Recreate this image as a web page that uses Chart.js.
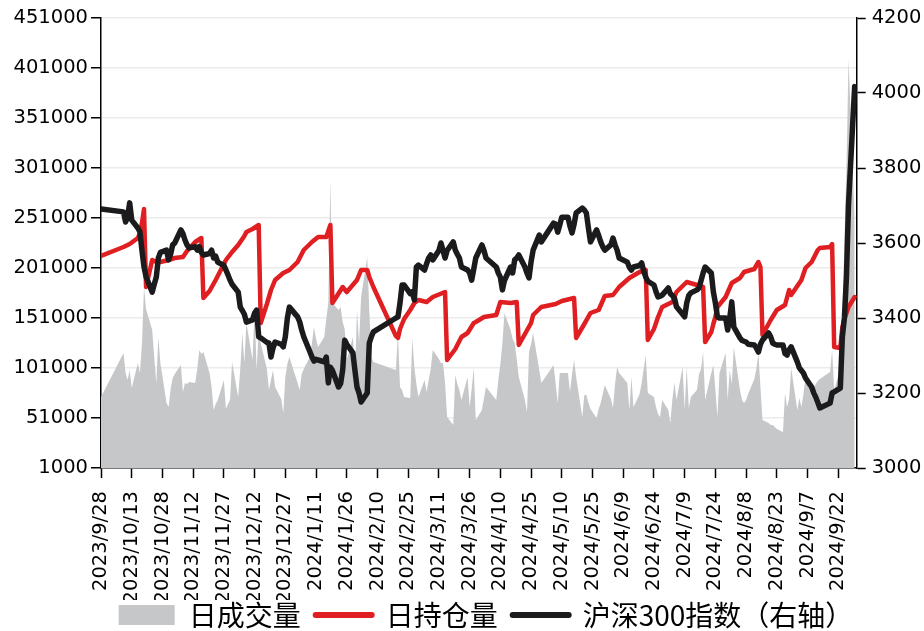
<!DOCTYPE html>
<html>
<head>
<meta charset="utf-8">
<script src="https://cdn.jsdelivr.net/npm/chart.js@4.4.1/dist/chart.umd.min.js"></script>
<style>
  html, body { margin: 0; padding: 0; background: #fff; }
  #chart { display: block; width: 924px; height: 631px; }
</style>
</head>
<body>
<canvas id="chart" width="924" height="631"></canvas>
<script>
// x axis tick labels (every 15 calendar days)
const xTickLabels = ['2023/9/28', '2023/10/13', '2023/10/28', '2023/11/12', '2023/11/27', '2023/12/12',
    '2023/12/27', '2024/1/11', '2024/1/26', '2024/2/10', '2024/2/25', '2024/3/11', '2024/3/26',
    '2024/4/10', '2024/4/25', '2024/5/10', '2024/5/25', '2024/6/9', '2024/6/24', '2024/7/9',
    '2024/7/24', '2024/8/8', '2024/8/23', '2024/9/7', '2024/9/22'];

// 日成交量 (left axis)
const volDates = ['2023/9/28', '2023/10/9', '2023/10/10', '2023/10/11', '2023/10/12', '2023/10/13', '2023/10/16', '2023/10/17', '2023/10/18', '2023/10/19', '2023/10/20',
    '2023/10/23', '2023/10/24', '2023/10/25', '2023/10/26', '2023/10/27', '2023/10/30', '2023/10/31', '2023/11/1', '2023/11/2', '2023/11/3',
    '2023/11/6', '2023/11/7', '2023/11/8', '2023/11/9', '2023/11/10', '2023/11/13', '2023/11/14', '2023/11/15', '2023/11/16', '2023/11/17',
    '2023/11/20', '2023/11/21', '2023/11/22', '2023/11/23', '2023/11/24', '2023/11/27', '2023/11/28', '2023/11/29', '2023/11/30', '2023/12/1',
    '2023/12/4', '2023/12/5', '2023/12/6', '2023/12/7', '2023/12/8', '2023/12/11', '2023/12/12', '2023/12/13', '2023/12/14', '2023/12/15',
    '2023/12/18', '2023/12/19', '2023/12/20', '2023/12/21', '2023/12/22', '2023/12/25', '2023/12/26', '2023/12/27', '2023/12/28', '2023/12/29',
    '2024/1/2', '2024/1/3', '2024/1/4', '2024/1/5', '2024/1/8', '2024/1/9', '2024/1/10', '2024/1/11', '2024/1/12',
    '2024/1/15', '2024/1/16', '2024/1/17', '2024/1/18', '2024/1/19', '2024/1/22', '2024/1/23', '2024/1/24', '2024/1/25', '2024/1/26',
    '2024/1/29', '2024/1/30', '2024/1/31', '2024/2/1', '2024/2/2', '2024/2/5', '2024/2/6', '2024/2/7', '2024/2/8',
    '2024/2/19', '2024/2/20', '2024/2/21', '2024/2/22', '2024/2/23', '2024/2/26', '2024/2/27', '2024/2/28', '2024/2/29', '2024/3/1',
    '2024/3/4', '2024/3/5', '2024/3/6', '2024/3/7', '2024/3/8', '2024/3/11', '2024/3/12', '2024/3/13', '2024/3/14', '2024/3/15',
    '2024/3/18', '2024/3/19', '2024/3/20', '2024/3/21', '2024/3/22', '2024/3/25', '2024/3/26', '2024/3/27', '2024/3/28', '2024/3/29',
    '2024/4/1', '2024/4/2', '2024/4/3', '2024/4/8', '2024/4/9', '2024/4/10', '2024/4/11', '2024/4/12',
    '2024/4/15', '2024/4/16', '2024/4/17', '2024/4/18', '2024/4/19', '2024/4/22', '2024/4/23', '2024/4/24', '2024/4/25', '2024/4/26',
    '2024/4/29', '2024/4/30', '2024/5/6', '2024/5/7', '2024/5/8', '2024/5/9', '2024/5/10',
    '2024/5/13', '2024/5/14', '2024/5/15', '2024/5/16', '2024/5/17', '2024/5/20', '2024/5/21', '2024/5/22', '2024/5/23', '2024/5/24',
    '2024/5/27', '2024/5/28', '2024/5/29', '2024/5/30', '2024/5/31', '2024/6/3', '2024/6/4', '2024/6/5', '2024/6/6', '2024/6/7',
    '2024/6/11', '2024/6/12', '2024/6/13', '2024/6/14', '2024/6/17', '2024/6/18', '2024/6/19', '2024/6/20', '2024/6/21',
    '2024/6/24', '2024/6/25', '2024/6/26', '2024/6/27', '2024/6/28', '2024/7/1', '2024/7/2', '2024/7/3', '2024/7/4', '2024/7/5',
    '2024/7/8', '2024/7/9', '2024/7/10', '2024/7/11', '2024/7/12', '2024/7/15', '2024/7/16', '2024/7/17', '2024/7/18', '2024/7/19',
    '2024/7/22', '2024/7/23', '2024/7/24', '2024/7/25', '2024/7/26', '2024/7/29', '2024/7/30', '2024/7/31', '2024/8/1', '2024/8/2',
    '2024/8/5', '2024/8/6', '2024/8/7', '2024/8/8', '2024/8/9', '2024/8/12', '2024/8/13', '2024/8/14', '2024/8/15', '2024/8/16',
    '2024/8/19', '2024/8/20', '2024/8/21', '2024/8/22', '2024/8/23', '2024/8/26', '2024/8/27', '2024/8/28', '2024/8/29', '2024/8/30',
    '2024/9/2', '2024/9/3', '2024/9/4', '2024/9/5', '2024/9/6', '2024/9/9', '2024/9/10', '2024/9/11', '2024/9/12', '2024/9/13',
    '2024/9/18', '2024/9/19', '2024/9/20', '2024/9/23', '2024/9/24', '2024/9/25', '2024/9/26', '2024/9/27', '2024/9/30'];
const volValues = [72000, 116000, 96000, 89000, 99000, 81000, 106000, 96000, 125000, 182000, 160000,
    139000, 112000, 86000, 132000, 106000, 66000, 62000, 80000, 91000, 95000,
    104000, 77000, 86000, 85000, 87000, 86000, 100000, 119000, 115000, 117000,
    96000, 82000, 59000, 65000, 69000, 89000, 60000, 65000, 69000, 107000,
    72000, 100000, 136000, 106000, 146000, 109000, 160000, 99000, 139000, 126000,
    100000, 79000, 89000, 99000, 82000, 70000, 56000, 92000, 105000, 112000,
    86000, 79000, 95000, 100000, 112000, 126000, 142000, 130000, 122000,
    132000, 150000, 166000, 290000, 166000, 159000, 162000, 147000, 140000, 109000,
    132000, 92000, 159000, 126000, 172000, 212000, 159000, 112000, 107000,
    99000, 136000, 82000, 79000, 72000, 71000, 131000, 102000, 85000, 72000,
    89000, 77000, 89000, 100000, 119000, 110000, 106000, 106000, 86000, 52000,
    44000, 94000, 85000, 79000, 69000, 92000, 62000, 80000, 101000, 49000,
    59000, 71000, 82000, 69000, 89000, 105000, 126000, 156000,
    139000, 130000, 126000, 110000, 92000, 69000, 57000, 117000, 125000, 136000,
    99000, 86000, 104000, 85000, 66000, 96000, 96000,
    96000, 77000, 95000, 109000, 92000, 52000, 74000, 74000, 66000, 60000,
    51000, 60000, 66000, 75000, 84000, 70000, 61000, 85000, 102000, 96000,
    86000, 59000, 92000, 62000, 75000, 86000, 100000, 114000, 76000,
    72000, 62000, 55000, 52000, 69000, 59000, 46000, 70000, 86000, 69000,
    102000, 59000, 102000, 61000, 72000, 79000, 95000, 100000, 117000, 69000,
    96000, 104000, 79000, 52000, 96000, 116000, 69000, 99000, 85000, 122000,
    79000, 69000, 66000, 69000, 75000, 90000, 100000, 116000, 82000, 49000,
    46000, 44000, 44000, 42000, 40000, 37000, 76000, 62000, 70000, 101000,
    59000, 71000, 62000, 75000, 92000, 72000, 80000, 85000, 88000, 90000,
    97000, 119000, 79000, 100000, 152000, 230000, 300000, 410000, 250000];

// 日持仓量 (left axis)
const oiDates = ['2023/9/28', '2023/10/9', '2023/10/11', '2023/10/12', '2023/10/16', '2023/10/17', '2023/10/18', '2023/10/19', '2023/10/20',
    '2023/10/23', '2023/10/25', '2023/10/27', '2023/10/31', '2023/11/3', '2023/11/7', '2023/11/9', '2023/11/13', '2023/11/16', '2023/11/17',
    '2023/11/20', '2023/11/23', '2023/11/28', '2023/12/1', '2023/12/4', '2023/12/7', '2023/12/8', '2023/12/11', '2023/12/14', '2023/12/15',
    '2023/12/18', '2023/12/20', '2023/12/22', '2023/12/26', '2023/12/29', '2024/1/2', '2024/1/5', '2024/1/9', '2024/1/12', '2024/1/16',
    '2024/1/18', '2024/1/19', '2024/1/24', '2024/1/26', '2024/1/31', '2024/2/2', '2024/2/5', '2024/2/6', '2024/2/7', '2024/2/8',
    '2024/2/19', '2024/2/20', '2024/2/21', '2024/2/23', '2024/2/26', '2024/2/28', '2024/3/1', '2024/3/5', '2024/3/8', '2024/3/14', '2024/3/15',
    '2024/3/19', '2024/3/22', '2024/3/25', '2024/3/28', '2024/3/29', '2024/4/2', '2024/4/8', '2024/4/10', '2024/4/15', '2024/4/18', '2024/4/19',
    '2024/4/22', '2024/4/25', '2024/4/26', '2024/4/30', '2024/5/7', '2024/5/10', '2024/5/16', '2024/5/17',
    '2024/5/21', '2024/5/24', '2024/5/28', '2024/5/31', '2024/6/4', '2024/6/7', '2024/6/12', '2024/6/17', '2024/6/20', '2024/6/21',
    '2024/6/24', '2024/6/26', '2024/6/28', '2024/7/3', '2024/7/5', '2024/7/10', '2024/7/15', '2024/7/18', '2024/7/19',
    '2024/7/22', '2024/7/23', '2024/7/24', '2024/7/25', '2024/7/29', '2024/8/1', '2024/8/5', '2024/8/7', '2024/8/12', '2024/8/14', '2024/8/15', '2024/8/16',
    '2024/8/20', '2024/8/23', '2024/8/27', '2024/8/29', '2024/8/30', '2024/9/4', '2024/9/6', '2024/9/9', '2024/9/12', '2024/9/13',
    '2024/9/18', '2024/9/19', '2024/9/20', '2024/9/23', '2024/9/24', '2024/9/25', '2024/9/26', '2024/9/27', '2024/9/30'];
const oiValues = [213000, 222000, 224000, 225000, 231000, 236000, 246000, 260000, 182000,
    209000, 207000, 207000, 209000, 211000, 212000, 218000, 227000, 231000, 171000,
    178000, 189000, 209000, 217000, 224000, 233000, 237000, 240000, 244000, 146000,
    165000, 179000, 189000, 196000, 199000, 207000, 219000, 227000, 232000, 232000,
    244000, 166000, 182000, 177000, 189000, 199000, 199000, 192000, 187000, 182000,
    133000, 131000, 140000, 150000, 159000, 166000, 169000, 167000, 172000, 177000, 109000,
    120000, 132000, 136000, 146000, 147000, 152000, 154000, 167000, 166000, 167000, 124000,
    135000, 146000, 154000, 162000, 165000, 168000, 171000, 131000,
    145000, 156000, 159000, 173000, 174000, 182000, 191000, 197000, 199000, 129000,
    140000, 152000, 162000, 167000, 177000, 187000, 184000, 182000, 127000,
    137000, 145000, 152000, 162000, 172000, 186000, 191000, 197000, 200000, 207000, 202000, 134000,
    149000, 159000, 164000, 179000, 174000, 189000, 201000, 207000, 219000, 221000,
    222000, 225000, 122000, 121000, 142000, 150000, 156000, 162000, 172000];

// 沪深300指数 (right axis)
const idxDates = ['2023/9/28', '2023/10/9', '2023/10/10', '2023/10/11', '2023/10/12', '2023/10/13', '2023/10/16', '2023/10/17', '2023/10/18', '2023/10/19', '2023/10/20',
    '2023/10/23', '2023/10/24', '2023/10/25', '2023/10/26', '2023/10/27', '2023/10/30', '2023/10/31', '2023/11/1', '2023/11/2', '2023/11/3',
    '2023/11/6', '2023/11/7', '2023/11/8', '2023/11/9', '2023/11/10', '2023/11/13', '2023/11/14', '2023/11/15', '2023/11/16', '2023/11/17',
    '2023/11/20', '2023/11/21', '2023/11/22', '2023/11/23', '2023/11/24', '2023/11/27', '2023/11/28', '2023/11/29', '2023/11/30', '2023/12/1',
    '2023/12/4', '2023/12/5', '2023/12/6', '2023/12/7', '2023/12/8', '2023/12/11', '2023/12/12', '2023/12/13', '2023/12/14', '2023/12/15',
    '2023/12/18', '2023/12/19', '2023/12/20', '2023/12/21', '2023/12/22', '2023/12/25', '2023/12/26', '2023/12/27', '2023/12/28', '2023/12/29',
    '2024/1/2', '2024/1/3', '2024/1/4', '2024/1/5', '2024/1/8', '2024/1/9', '2024/1/10', '2024/1/11', '2024/1/12',
    '2024/1/15', '2024/1/16', '2024/1/17', '2024/1/18', '2024/1/19', '2024/1/22', '2024/1/23', '2024/1/24', '2024/1/25', '2024/1/26',
    '2024/1/29', '2024/1/30', '2024/1/31', '2024/2/1', '2024/2/2', '2024/2/5', '2024/2/6', '2024/2/7', '2024/2/8',
    '2024/2/19', '2024/2/20', '2024/2/21', '2024/2/22', '2024/2/23', '2024/2/26', '2024/2/27', '2024/2/28', '2024/2/29', '2024/3/1',
    '2024/3/4', '2024/3/5', '2024/3/6', '2024/3/7', '2024/3/8', '2024/3/11', '2024/3/12', '2024/3/13', '2024/3/14', '2024/3/15',
    '2024/3/18', '2024/3/19', '2024/3/20', '2024/3/21', '2024/3/22', '2024/3/25', '2024/3/26', '2024/3/27', '2024/3/28', '2024/3/29',
    '2024/4/1', '2024/4/2', '2024/4/3', '2024/4/8', '2024/4/9', '2024/4/10', '2024/4/11', '2024/4/12',
    '2024/4/15', '2024/4/16', '2024/4/17', '2024/4/18', '2024/4/19', '2024/4/22', '2024/4/23', '2024/4/24', '2024/4/25', '2024/4/26',
    '2024/4/29', '2024/4/30', '2024/5/6', '2024/5/7', '2024/5/8', '2024/5/9', '2024/5/10',
    '2024/5/13', '2024/5/14', '2024/5/15', '2024/5/16', '2024/5/17', '2024/5/20', '2024/5/21', '2024/5/22', '2024/5/23', '2024/5/24',
    '2024/5/27', '2024/5/28', '2024/5/29', '2024/5/30', '2024/5/31', '2024/6/3', '2024/6/4', '2024/6/5', '2024/6/6', '2024/6/7',
    '2024/6/11', '2024/6/12', '2024/6/13', '2024/6/14', '2024/6/17', '2024/6/18', '2024/6/19', '2024/6/20', '2024/6/21',
    '2024/6/24', '2024/6/25', '2024/6/26', '2024/6/27', '2024/6/28', '2024/7/1', '2024/7/2', '2024/7/3', '2024/7/4', '2024/7/5',
    '2024/7/8', '2024/7/9', '2024/7/10', '2024/7/11', '2024/7/12', '2024/7/15', '2024/7/16', '2024/7/17', '2024/7/18', '2024/7/19',
    '2024/7/22', '2024/7/23', '2024/7/24', '2024/7/25', '2024/7/26', '2024/7/29', '2024/7/30', '2024/7/31', '2024/8/1', '2024/8/2',
    '2024/8/5', '2024/8/6', '2024/8/7', '2024/8/8', '2024/8/9', '2024/8/12', '2024/8/13', '2024/8/14', '2024/8/15', '2024/8/16',
    '2024/8/19', '2024/8/20', '2024/8/21', '2024/8/22', '2024/8/23', '2024/8/26', '2024/8/27', '2024/8/28', '2024/8/29', '2024/8/30',
    '2024/9/2', '2024/9/3', '2024/9/4', '2024/9/5', '2024/9/6', '2024/9/9', '2024/9/10', '2024/9/11', '2024/9/12', '2024/9/13',
    '2024/9/18', '2024/9/19', '2024/9/20', '2024/9/23', '2024/9/24', '2024/9/25', '2024/9/26', '2024/9/27', '2024/9/30'];
const idxValues = [3691, 3683, 3656, 3670, 3707, 3661, 3640, 3630, 3580, 3536, 3510,
    3469, 3490, 3509, 3560, 3575, 3581, 3555, 3570, 3595, 3600,
    3635, 3625, 3608, 3595, 3587, 3590, 3581, 3590, 3575, 3568,
    3572, 3581, 3560, 3565, 3549, 3540, 3528, 3515, 3501, 3490,
    3469, 3429, 3420, 3410, 3389, 3395, 3413, 3421, 3350, 3347,
    3335, 3333, 3296, 3320, 3336, 3330, 3323, 3350, 3400, 3429,
    3403, 3390, 3368, 3350, 3310, 3296, 3285, 3290, 3288,
    3283, 3296, 3227, 3269, 3260, 3216, 3225, 3261, 3341, 3330,
    3307, 3260, 3216, 3200, 3176, 3200, 3333, 3350, 3363,
    3400, 3403, 3440, 3488, 3488, 3465, 3470, 3448, 3536, 3541,
    3528, 3545, 3560, 3568, 3555, 3580, 3600, 3580, 3560, 3580,
    3603, 3581, 3570, 3560, 3536, 3528, 3520, 3501, 3530, 3560,
    3595, 3580, 3560, 3536, 3520, 3509, 3475, 3500,
    3536, 3520, 3555, 3560, 3568, 3536, 3520, 3507, 3550, 3581,
    3621, 3603, 3653, 3650, 3629, 3648, 3669,
    3669, 3645, 3627, 3650, 3680, 3693, 3688, 3680, 3640, 3603,
    3635, 3620, 3603, 3590, 3581, 3595, 3613, 3595, 3581, 3560,
    3549, 3535, 3528, 3536, 3540, 3547, 3525, 3509, 3498,
    3488, 3470, 3456, 3458, 3461, 3480, 3465, 3460, 3453, 3430,
    3410, 3403, 3440, 3460, 3467, 3475, 3480, 3500, 3520, 3536,
    3520, 3470, 3440, 3403, 3400, 3400, 3368, 3400, 3443, 3376,
    3347, 3340, 3338, 3336, 3330, 3328, 3320, 3309, 3330, 3341,
    3360, 3350, 3333, 3330, 3328, 3328, 3305, 3301, 3315, 3323,
    3283, 3267, 3260, 3253, 3240, 3216, 3200, 3189, 3175, 3160,
    3173, 3200, 3203, 3213, 3350, 3400, 3510, 3703, 4017];

const baseDate = new Date(2023, 8, 28);
function dayNum(s) {
    const [y, m, d] = s.split('/').map(Number);
    return Math.round((new Date(y, m - 1, d) - baseDate) / 86400000);
}
const toPoints = (dates, values) => dates.map((d, i) => ({ x: dayNum(d), y: values[i] }));

const tickLabelByDay = {};
xTickLabels.forEach(s => { tickLabelByDay[dayNum(s)] = s; });

const tickFont = { family: "'DejaVu Sans'", size: 19.5 };
const black = '#000';

// the x labels need the full axis box, so the legend is nudged into place
const legendNudge = {
    id: 'legendNudge',
    afterLayout(chart) {
        const lg = chart.legend;
        lg.top -= 14; lg.bottom -= 14;
        lg.left += 24; lg.right += 24;
    }
};

const ctx = document.getElementById('chart').getContext('2d');
new Chart(ctx, {
    type: 'line',
    data: {
        datasets: [{
            label: '日成交量',
            data: toPoints(volDates, volValues),
            yAxisID: 'y',
            backgroundColor: '#c6c7c9',
            borderColor: '#c6c7c9',
            borderWidth: 0,
            fill: 'start',
            order: 3,
            legendStyle: 'rect'
        }, {
            label: '日持仓量',
            data: toPoints(oiDates, oiValues),
            yAxisID: 'y',
            borderColor: '#e01f22',
            backgroundColor: '#e01f22',
            borderWidth: 4.5,
            fill: false,
            order: 2,
            legendStyle: 'line'
        }, {
            label: '沪深300指数（右轴）',
            data: toPoints(idxDates, idxValues),
            yAxisID: 'y1',
            borderColor: '#1b1b1d',
            backgroundColor: '#1b1b1d',
            borderWidth: 5.5,
            fill: false,
            order: 1,
            legendStyle: 'line'
        }]
    },
    plugins: [legendNudge],
    options: {
        responsive: false,
        animation: false,
        layout: { padding: { left: 0, right: 0, top: 18, bottom: -22 } },
        elements: {
            point: { radius: 0 },
            line: { tension: 0, borderJoinStyle: 'round', borderCapStyle: 'round' }
        },
        plugins: {
            tooltip: { enabled: false },
            legend: {
                position: 'bottom',
                labels: {
                    usePointStyle: true,
                    pointStyleWidth: 56,
                    boxHeight: 20,
                    padding: 15,
                    color: black,
                    font: { family: "'Noto Sans CJK SC'", size: 28 },
                    sort: (a, b) => a.datasetIndex - b.datasetIndex,
                    generateLabels: function(chart) {
                        const items = Chart.defaults.plugins.legend.labels.generateLabels(chart);
                        items.forEach(item => {
                            const ds = chart.data.datasets[item.datasetIndex];
                            item.pointStyle = ds.legendStyle;
                            if (ds.legendStyle === 'line') {
                                item.lineWidth = 6;
                                item.strokeStyle = ds.borderColor;
                                item.lineCap = 'round';
                            } else {
                                item.lineWidth = 0;
                                item.fillStyle = ds.backgroundColor;
                            }
                        });
                        return items;
                    }
                }
            }
        },
        scales: {
            x: {
                type: 'linear',
                min: 0,
                max: 369,
                afterBuildTicks: scale => {
                    scale.ticks = xTickLabels.map(s => ({ value: dayNum(s) }));
                },
                afterFit: scale => { scale.height = 132; },
                grid: { drawOnChartArea: false, drawTicks: true, tickLength: 10, tickColor: black, tickWidth: 1.5 },
                border: { color: black, width: 1.5 },
                ticks: {
                    autoSkip: false,
                    maxRotation: 90,
                    minRotation: 90,
                    padding: 13,
                    color: black,
                    font: tickFont,
                    callback: value => tickLabelByDay[value] || ''
                }
            },
            y: {
                position: 'left',
                min: 1000,
                max: 451000,
                afterFit: scale => { scale.width = 101; },
                grid: { color: '#ebebeb', lineWidth: 1.5, tickColor: black, tickLength: 10, tickWidth: 1.5 },
                border: { color: black, width: 1.5 },
                ticks: {
                    stepSize: 50000,
                    padding: 3,
                    color: black,
                    font: tickFont,
                    callback: value => String(value)
                }
            },
            y1: {
                position: 'right',
                min: 3000,
                max: 4200,
                afterFit: scale => { scale.width = 67.3; },
                grid: { drawOnChartArea: false, tickColor: black, tickLength: 9, tickWidth: 1.5 },
                border: { color: black, width: 1.5 },
                ticks: {
                    stepSize: 200,
                    padding: 6,
                    color: black,
                    font: tickFont,
                    callback: value => String(value)
                }
            }
        }
    }
});
</script>
</body>
</html>
